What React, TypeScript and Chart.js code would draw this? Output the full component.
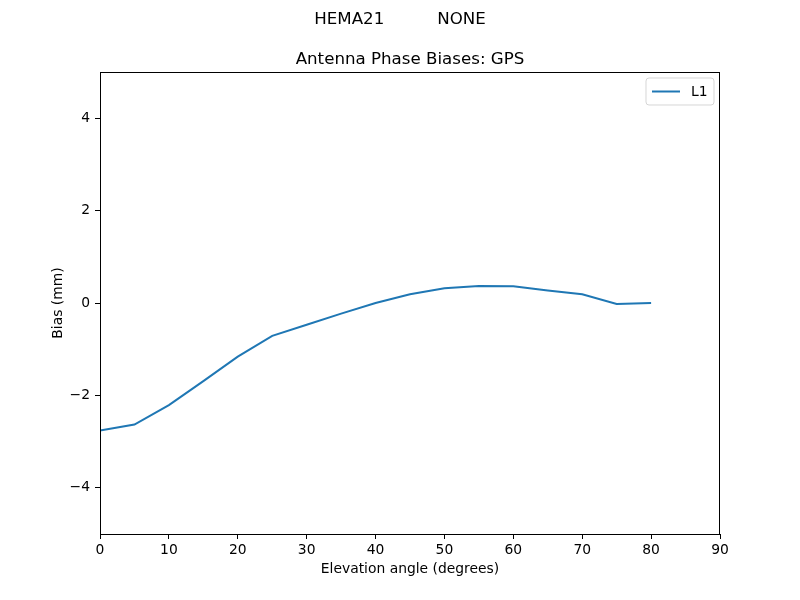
import React, { useEffect, useRef } from "react";
import { Chart, registerables } from "chart.js";

Chart.register(...registerables);

const elevation = [0, 5, 10, 15, 20, 25, 30, 35, 40, 45, 50, 55, 60, 65, 70, 75, 80];
const l1Bias = [-2.76, -2.63, -2.21, -1.69, -1.16, -0.71, -0.47, -0.23, 0.0, 0.19, 0.32, 0.37, 0.36, 0.27, 0.19, -0.02, 0.0];
const xTicks = [0, 10, 20, 30, 40, 50, 60, 70, 80, 90];
const yTicks = [-4, -2, 0, 2, 4];
const supTitle = "HEMA21          NONE";
const axTitle = "Antenna Phase Biases: GPS";
const seriesLabel = "L1";
const xLabel = "Elevation angle (degrees)";
const yLabel = "Bias (mm)";

const FONT = "DejaVu Sans";
const BLUE = "#1f77b4";

const decorPlugin = {
  id: "decor",
  afterDraw(chart: any) {
    const { ctx, chartArea } = chart;
    const { left, right, top, bottom } = chartArea;
    ctx.save();
    // full frame
    ctx.strokeStyle = "#000";
    ctx.lineWidth = 1;
    ctx.strokeRect(Math.round(left) + 0.5, Math.round(top) + 0.5, Math.round(right - left) - 1, Math.round(bottom - top));
    // titles
    ctx.fillStyle = "#000";
    ctx.textAlign = "center";
    ctx.textBaseline = "alphabetic";
    ctx.font = `16.67px "${FONT}"`;
    ctx.fillText(supTitle, chart.width / 2, 24);
    ctx.fillText(axTitle, (left + right) / 2, 64);
    // legend
    const fs = 13.89;
    const bx = 646, by = 78, bw = 68, bh = 27, r = 3;
    ctx.globalAlpha = 0.8;
    ctx.fillStyle = "#fff";
    ctx.beginPath();
    ctx.moveTo(bx + r, by);
    ctx.lineTo(bx + bw - r, by);
    ctx.quadraticCurveTo(bx + bw, by, bx + bw, by + r);
    ctx.lineTo(bx + bw, by + bh - r);
    ctx.quadraticCurveTo(bx + bw, by + bh, bx + bw - r, by + bh);
    ctx.lineTo(bx + r, by + bh);
    ctx.quadraticCurveTo(bx, by + bh, bx, by + bh - r);
    ctx.lineTo(bx, by + r);
    ctx.quadraticCurveTo(bx, by, bx + r, by);
    ctx.closePath();
    ctx.fill();
    ctx.strokeStyle = "#cccccc";
    ctx.lineWidth = 1;
    ctx.stroke();
    ctx.globalAlpha = 1;
    ctx.strokeStyle = BLUE;
    ctx.lineWidth = 2;
    ctx.beginPath();
    ctx.moveTo(652, 91.5);
    ctx.lineTo(680, 91.5);
    ctx.stroke();
    ctx.fillStyle = "#000";
    ctx.textAlign = "left";
    ctx.textBaseline = "middle";
    ctx.font = `${fs}px "${FONT}"`;
    ctx.fillText(seriesLabel, 691, 92);
    ctx.restore();
  },
};

export default function App() {
  const ref = useRef<HTMLCanvasElement>(null);
  useEffect(() => {
    if (!ref.current) return;
    Chart.defaults.font.family = FONT;
    const tickFont = { family: FONT, size: 13.89 };
    const chart = new Chart(ref.current, {
      type: "line",
      data: {
        datasets: [
          {
            label: seriesLabel,
            data: elevation.map((x, i) => ({ x, y: l1Bias[i] })),
            borderColor: BLUE,
            backgroundColor: BLUE,
            borderWidth: 2,
            pointRadius: 0,
            tension: 0,
            fill: false,
          },
        ],
      },
      options: {
        animation: false,
        responsive: false,
        devicePixelRatio: 1,
        layout: { padding: { top: 72, right: 80, left: 0, bottom: 0 } },
        plugins: {
          legend: { display: false },
          title: { display: false },
          tooltip: { enabled: false },
        },
        scales: {
          x: {
            type: "linear",
            min: 0,
            max: 90,
            afterBuildTicks: (s: any) => {
              s.ticks = xTicks.map((v) => ({ value: v }));
            },
            afterFit: (s: any) => {
              s.height = 66;
            },
            ticks: {
              color: "#000",
              font: tickFont,
              padding: 3,
              maxRotation: 0,
              autoSkip: false,
              callback: (v: any) => String(v).replace("-", "\u2212"),
            },
            grid: { display: true, drawOnChartArea: false, drawTicks: true, tickLength: 5, color: "#000", lineWidth: 1 },
            border: { display: true, color: "#000", width: 1 },
            title: { display: true, text: xLabel, color: "#000", font: tickFont, padding: { top: 0, bottom: 22 } },
          },
          y: {
            type: "linear",
            min: -5,
            max: 5,
            afterBuildTicks: (s: any) => {
              s.ticks = yTicks.map((v) => ({ value: v }));
            },
            afterFit: (s: any) => {
              s.width = 100;
            },
            ticks: {
              color: "#000",
              font: tickFont,
              padding: 5,
              autoSkip: false,
              callback: (v: any) => String(v).replace("-", "\u2212"),
            },
            grid: { display: true, drawOnChartArea: false, drawTicks: true, tickLength: 5, color: "#000", lineWidth: 1 },
            border: { display: true, color: "#000", width: 1 },
            title: { display: true, text: yLabel, color: "#000", font: tickFont, padding: { top: 50, bottom: 0 } },
          },
        },
      },
      plugins: [decorPlugin],
    } as any);
    return () => chart.destroy();
  }, []);
  return (
    <div style={{ position: "absolute", left: 0, top: 0, width: 800, height: 600, background: "#fff" }}>
      <canvas ref={ref} width={800} height={600} style={{ width: 800, height: 600 }} />
    </div>
  );
}
